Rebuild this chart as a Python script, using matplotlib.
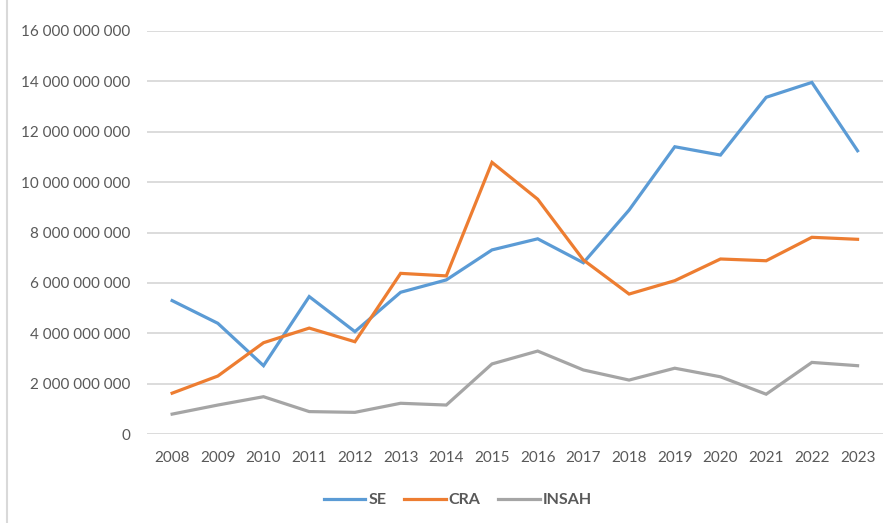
import matplotlib
matplotlib.use('Agg')
import matplotlib.pyplot as plt
from matplotlib.lines import Line2D
from matplotlib.ticker import FuncFormatter, MultipleLocator

years = list(range(2008, 2024))
se = [5.30e9, 4.40e9, 2.72e9, 5.46e9, 4.07e9, 5.63e9, 6.12e9, 7.31e9,
      7.75e9, 6.80e9, 8.89e9, 11.40e9, 11.07e9, 13.36e9, 13.95e9, 11.24e9]
cra = [1.63e9, 2.31e9, 3.63e9, 4.21e9, 3.67e9, 6.38e9, 6.28e9, 10.78e9,
       9.32e9, 6.91e9, 5.56e9, 6.09e9, 6.95e9, 6.88e9, 7.81e9, 7.73e9]
insah = [0.80e9, 1.16e9, 1.49e9, 0.90e9, 0.87e9, 1.23e9, 1.16e9, 2.79e9,
         3.30e9, 2.55e9, 2.15e9, 2.62e9, 2.28e9, 1.59e9, 2.85e9, 2.72e9]

plt.rcParams['font.family'] = ['Lato', 'DejaVu Sans']
txt = '#595959'
grid = '#D9D9D9'

W, H = 894, 523
fig = plt.figure(figsize=(W / 100, H / 100), dpi=100)
ax = fig.add_axes([147 / W, 1 - 434.3 / H, 735.7 / W, 403.6 / H])

ax.plot(years, se, color='#5B9BD5', lw=2.3, label='SE', solid_joinstyle='miter')
ax.plot(years, cra, color='#ED7D31', lw=2.3, label='CRA', solid_joinstyle='miter')
ax.plot(years, insah, color='#A5A5A5', lw=2.3, label='INSAH', solid_joinstyle='miter')

ax.set_xlim(2007.45, 2023.55)
ax.set_ylim(0, 16e9)
ax.yaxis.set_major_locator(MultipleLocator(2e9))
ax.yaxis.set_major_formatter(FuncFormatter(lambda v, p: f'{int(round(v)):,}'.replace(',', ' ')))
ax.set_xticks(years)
ax.grid(axis='y', color=grid, lw=1.3)
ax.set_axisbelow(True)
for s in ax.spines.values():
    s.set_visible(False)
ax.tick_params(axis='y', length=0, pad=12, labelsize=11, labelcolor=txt)
ax.tick_params(axis='x', length=0, pad=12, labelsize=11, labelcolor=txt)

leg = fig.legend(loc='center', bbox_to_anchor=(458 / W, 1 - 500 / H), ncol=3,
                 frameon=False, handlelength=2.6, handletextpad=0.2,
                 columnspacing=1.1, prop={'size': 11.5, 'weight': 'bold'})
for t in leg.get_texts():
    t.set_color(txt)

# thin frame line along the left edge of the chart area
fig.add_artist(Line2D([7 / W, 7 / W], [0, 1], transform=fig.transFigure,
                      color=grid, lw=1.5))

fig.savefig('out.png', dpi=100)
